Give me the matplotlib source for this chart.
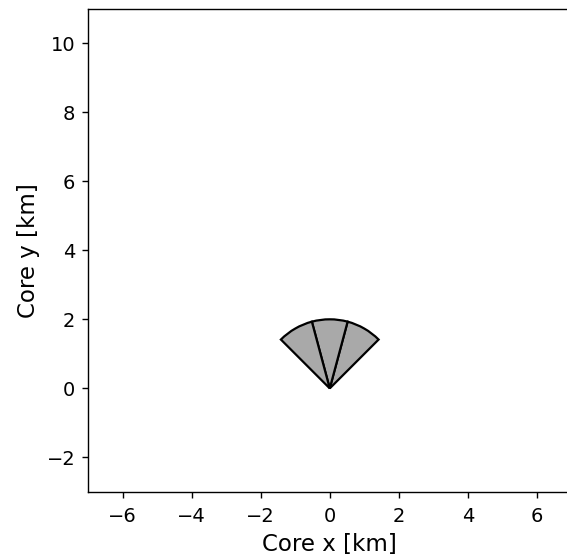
import matplotlib
matplotlib.use("Agg")
import matplotlib.pyplot as plt
from matplotlib.patches import Wedge

# Sector layout: each wedge spans [theta1, theta2] degrees, common radius in km
theta_start = [45, 75, 105]
theta_end = [75, 105, 135]
radius_km = 2.0
center = (0.0, 0.0)

fig = plt.figure(figsize=(5.67, 5.57), dpi=100)
ax = fig.add_axes([88 / 567, 65 / 557, 483.5 / 567, 483.5 / 557])

for t1, t2 in zip(theta_start, theta_end):
    ax.add_patch(Wedge(center, radius_km, t1, t2, facecolor="darkgray",
                       edgecolor="black", linewidth=1.6))

ax.set_xlim(-7, 7)
ax.set_ylim(-3, 11)
ax.set_aspect("equal")
ax.set_xticks([-6, -4, -2, 0, 2, 4, 6])
ax.set_yticks([-2, 0, 2, 4, 6, 8, 10])
ax.tick_params(labelsize=14, length=4.5, width=1.0, pad=4.5)
ax.tick_params(axis="x", pad=6.5)
for spine in ax.spines.values():
    spine.set_linewidth(1.0)
ax.set_xlabel("Core x [km]", fontsize=16.5, labelpad=5)
ax.set_ylabel("Core y [km]", fontsize=16.5, labelpad=5)

fig.savefig("out.png", dpi=100)
